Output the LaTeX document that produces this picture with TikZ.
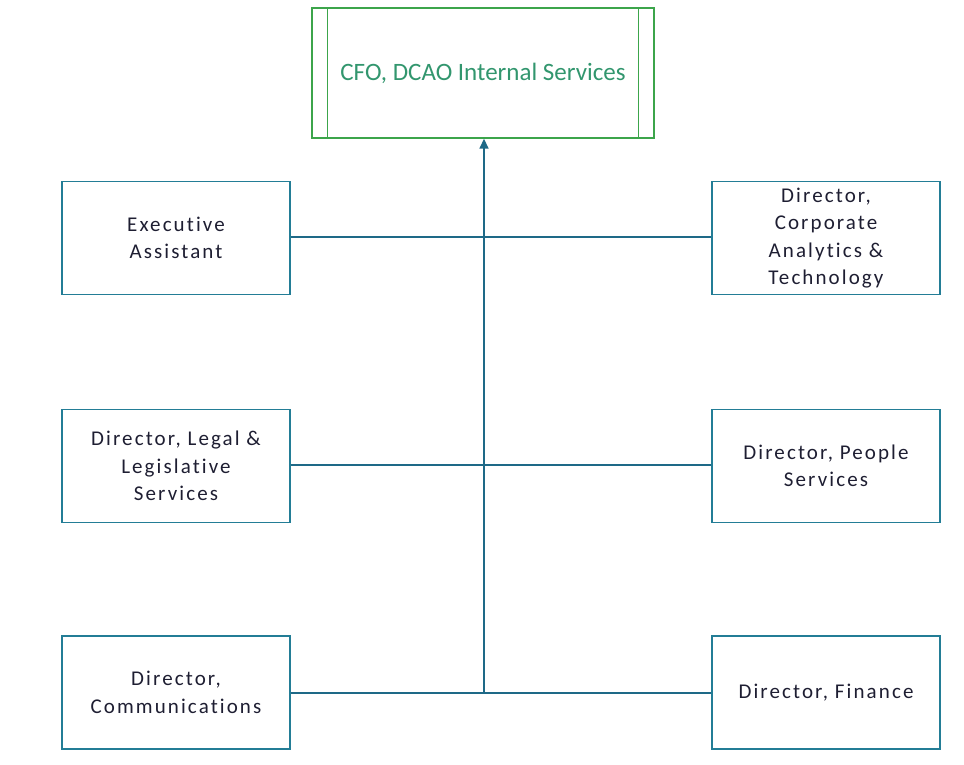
\documentclass[tikz,border=0pt]{standalone}
\usepackage{fontspec}
\setmainfont{Carlito}
\newfontfamily\spaced[LetterSpace=10,Ligatures=NoCommon]{Carlito}
\usetikzlibrary{arrows.meta}
\definecolor{boxteal}{RGB}{35,125,150}
\definecolor{linteal}{RGB}{30,105,135}
\definecolor{topgreen}{RGB}{60,165,75}
\definecolor{toptext}{RGB}{50,150,110}
\definecolor{txt}{RGB}{30,30,50}
\begin{document}
\begin{tikzpicture}[x=1pt,y=-1pt,
  unit/.style={draw=boxteal,line width=1.6pt,minimum width=228pt,minimum height=113pt,
    align=center,text=txt,font=\spaced\fontsize{21}{27.5}\selectfont,inner sep=0pt},
  conn/.style={draw=linteal,line width=1.6pt}]
\useasboundingbox (0,0) rectangle (964,765);
\node[draw=topgreen,line width=1.4pt,minimum width=342pt,minimum height=130pt,inner sep=0pt,
  text=toptext,font=\fontsize{25}{30}\selectfont] (cfo) at (483,73) {CFO, DCAO Internal Services};
\draw[topgreen,line width=1.2pt] ([xshift=16pt]cfo.north west) -- ([xshift=16pt]cfo.south west);
\draw[topgreen,line width=1.2pt] ([xshift=-16pt]cfo.north east) -- ([xshift=-16pt]cfo.south east);
\node[unit] (ea) at (176,238) {Executive\\Assistant};
\node[unit] (legal) at (176,466) {Director, Legal \&\\Legislative\\Services};
\node[unit] (comm) at (176,692.5) {Director,\\Communications};
\node[unit] (cat) at (826,238) {Director,\\Corporate\\Analytics \&\\Technology};
\node[unit] (people) at (826,466) {Director, People\\Services};
\node[unit] (fin) at (826,692.5) {Director, Finance};
\coordinate (j) at (484,693);
\draw[conn] (comm.east |- j) -- (fin.west |- j);
\draw[conn] (ea.east |- 0,237) -- (cat.west |- 0,237);
\draw[conn] (legal.east |- 0,465) -- (people.west |- 0,465);
\draw[conn,-{Triangle[length=10pt,width=9pt]}] (j) -- (j |- cfo.south);
\end{tikzpicture}
\end{document}
